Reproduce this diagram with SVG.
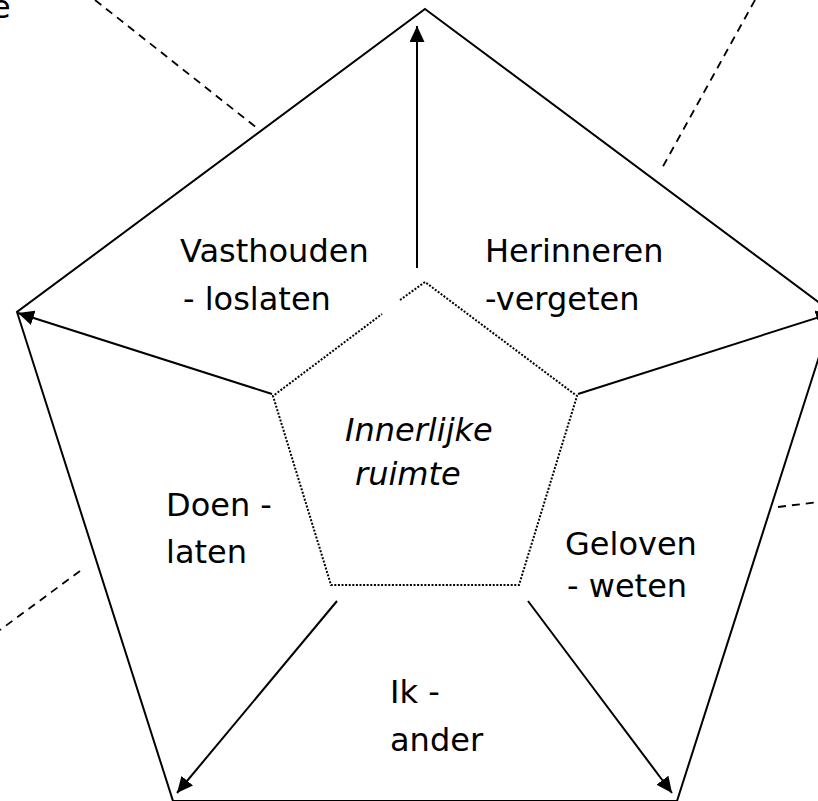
<svg xmlns="http://www.w3.org/2000/svg" width="818" height="801" viewBox="0 0 818 801">
<defs>
<marker id="ah" viewBox="0 0 16 15" markerUnits="userSpaceOnUse" markerWidth="16" markerHeight="15" refX="16" refY="7.5" orient="auto">
<path d="M0,0 L16,7.5 L0,15 z" fill="#000"/>
</marker>
<style>
.lbl{font-family:"DejaVu Sans","Liberation Sans",sans-serif;font-size:32px;fill:#000}
.it{font-style:italic}
.outer{fill:none;stroke:#000;stroke-width:2;stroke-linejoin:miter}
.inner{fill:none;stroke:#000;stroke-width:2;stroke-dasharray:2 1.6}
.dash{fill:none;stroke:#000;stroke-width:1.8;stroke-dasharray:8 6}
.arr{fill:none;stroke:#000;stroke-width:2;marker-end:url(#ah)}
</style>
</defs>
<rect width="818" height="801" fill="#fff"/>
<g id="outer-pentagon">
<polygon class="outer" points="425,9 833,313 677,801 173,801 17,312"/>
</g>
<g id="dashed-lines">
<line class="dash" x1="95" y1="0" x2="257" y2="128"/>
<line class="dash" x1="755" y1="0" x2="661" y2="170"/>
<line class="dash" x1="778" y1="507" x2="818" y2="502"/>
<line class="dash" x1="80" y1="571" x2="0" y2="630"/>
</g>
<g id="inner-pentagon">
<polyline class="inner" points="400,300 425,282 577,396 519,585 331,585 273,396 382,314"/>
</g>
<g id="connectors">
<line class="arr" x1="417" y1="268" x2="417" y2="26"/>
<line class="arr" x1="272" y1="394" x2="18" y2="313"/>
<line class="arr" x1="578" y1="394" x2="832" y2="313"/>
<line class="arr" x1="337" y1="601" x2="177" y2="793"/>
<line class="arr" x1="528" y1="601" x2="672" y2="793"/>
</g>
<g id="node-clipped">
<text class="lbl" x="-9" y="18">e</text>
</g>
<g id="node-vasthouden">
<text class="lbl" x="180" y="262">Vasthouden</text>
<text class="lbl" x="183" y="310">- loslaten</text>
</g>
<g id="node-herinneren">
<text class="lbl" x="485" y="262">Herinneren</text>
<text class="lbl" x="485" y="310">-vergeten</text>
</g>
<g id="node-innerlijke">
<text class="lbl it" x="345" y="441">Innerlijke</text>
<text class="lbl it" x="355" y="485">ruimte</text>
</g>
<g id="node-doen">
<text class="lbl" x="166" y="516">Doen -</text>
<text class="lbl" x="166" y="563">laten</text>
</g>
<g id="node-geloven">
<text class="lbl" x="565" y="555">Geloven</text>
<text class="lbl" x="567" y="597">- weten</text>
</g>
<g id="node-ik">
<text class="lbl" x="390" y="703">Ik -</text>
<text class="lbl" x="390" y="751">ander</text>
</g>
</svg>
